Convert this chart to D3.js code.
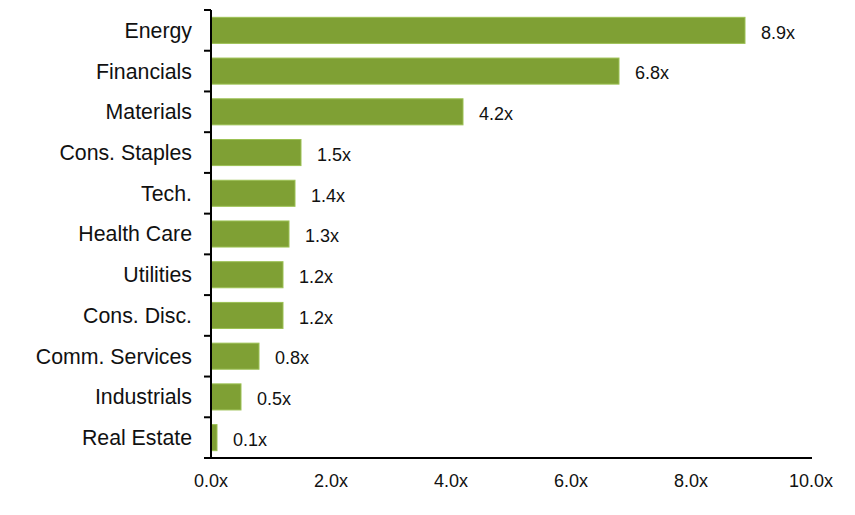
<!DOCTYPE html>
<html><head><meta charset="utf-8">
<script src="https://cdn.jsdelivr.net/npm/d3@7"></script>
<style>body{margin:0;background:#fff}svg{display:block}text{font-family:"Liberation Sans",Arial,sans-serif}</style>
</head><body>
<svg id="chart" width="855" height="515"></svg>
<script>
const categories = ["Energy","Financials","Materials","Cons. Staples","Tech.","Health Care","Utilities","Cons. Disc.","Comm. Services","Industrials","Real Estate"];
const values = [8.9, 6.8, 4.2, 1.5, 1.4, 1.3, 1.2, 1.2, 0.8, 0.5, 0.1];
const xTicks = [0, 2, 4, 6, 8, 10];

const svg = d3.select("#chart");
const x = d3.scaleLinear().domain([0, 10]).range([211, 811]);
const y = d3.scaleBand().domain(categories).range([10, 458]).paddingInner(0.36).paddingOuter(0.18);

const g = svg.append("g");
g.selectAll("rect.bar").data(categories).join("rect")
  .attr("class","bar")
  .attr("x", x(0))
  .attr("y", d => y(d))
  .attr("width", (d,i) => x(values[i]) - x(0))
  .attr("height", y.bandwidth())
  .attr("fill", "#7fa034")
  .attr("stroke", "#9cc154")
  .attr("stroke-width", 1);

g.selectAll("text.val").data(categories).join("text")
  .attr("class","val")
  .attr("x", (d,i) => x(values[i]) + 16)
  .attr("y", d => y(d) + y.bandwidth()/2 + 2)
  .attr("dy", "0.35em")
  .attr("font-size", 18)
  .attr("fill", "#111")
  .text((d,i) => values[i].toFixed(1) + "x");

// y axis labels
g.selectAll("text.cat").data(categories).join("text")
  .attr("class","cat")
  .attr("x", 192)
  .attr("y", d => y(d) + y.bandwidth()/2)
  .attr("dy", "0.35em")
  .attr("text-anchor", "end")
  .attr("font-size", 21.3)
  .attr("fill", "#111")
  .text(d => d);

// y axis line and boundary ticks
const bounds = d3.range(categories.length + 1).map(i => y.range()[0] + i * y.step());
svg.append("line").attr("x1", x(0)).attr("x2", x(0)).attr("y1", 10).attr("y2", 458)
  .attr("stroke", "#000").attr("stroke-width", 2);
svg.selectAll("line.tk").data(bounds.slice(0, -1)).join("line")
  .attr("class","tk")
  .attr("x1", 204).attr("x2", x(0)).attr("y1", d => d).attr("y2", d => d)
  .attr("stroke", "#000").attr("stroke-width", 2);

// x axis
svg.append("line").attr("x1", 204).attr("x2", x(10)+1).attr("y1", 458).attr("y2", 458)
  .attr("stroke", "#000").attr("stroke-width", 2);
svg.selectAll("text.xt").data(xTicks).join("text")
  .attr("class","xt")
  .attr("x", d => x(d))
  .attr("y", 480.5)
  .attr("dy", "0.35em")
  .attr("text-anchor", "middle")
  .attr("font-size", 18)
  .attr("fill", "#111")
  .text(d => d.toFixed(1) + "x");
</script>
</body></html>
